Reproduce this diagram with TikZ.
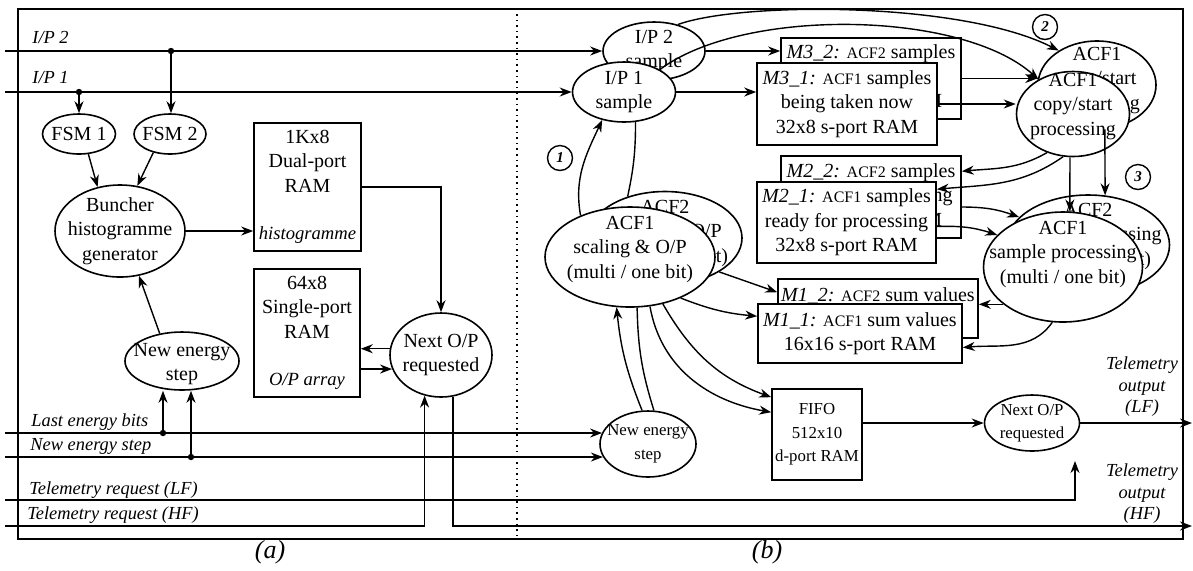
\documentclass[tikz,border=0pt]{standalone}
\usepackage{fontspec}
\setmainfont{Liberation Serif}
\usetikzlibrary{shapes.geometric,arrows.meta}
\newcommand\boxfont{\fontsize{10}{12.25}\selectfont}
\newcommand\narrowfont{\fontsize{8.4}{11.75}\selectfont}
\newcommand\sigfont{\fontsize{9.2}{10.75}\selectfont\itshape}
\newcommand\numfont{\fontsize{7.5}{8}\selectfont\bfseries\itshape}
\newcommand\smallacf[1]{{\fontsize{8}{10}\selectfont #1}}
\newcommand\boxnote[1]{{\fontsize{9.3}{12.25}\selectfont\itshape #1}}
\begin{document}
\begin{tikzpicture}[x=0.5pt,y=-0.5pt,
    ell/.style={draw, ellipse, fill=white, line width=0.8pt, inner sep=0pt},
    mem/.style={draw, rectangle, fill=white, line width=0.8pt, align=center, inner sep=0pt, font=\boxfont},
    txt/.style={align=center, inner sep=0pt, font=\boxfont},
    sig/.style={anchor=base west, inner sep=0pt, font=\sigfont},
    num/.style={draw, circle, line width=0.7pt, minimum size=12.5pt, inner sep=0pt, font=\numfont},
    arr/.style={line width=0.7pt, -{Stealth[length=6pt,width=4.5pt]}}]
    \useasboundingbox (0,0) rectangle (1193,570);
    \draw [line width=0.9pt] (18,9) rectangle (1183,539);
    \draw [dotted, line width=0.8pt] (517,14) -- (517,537);
    % (a)
    \coordinate (ip2in) at (5,51);
    \coordinate (ip1in) at (5,92);
    \coordinate (lebin) at (5,433);
    \coordinate (nesin) at (5,457);
    \coordinate (tlfin) at (5,500);
    \coordinate (thfin) at (5,526);
    \coordinate (ip2dot) at (171,51);
    \coordinate (ip1dot) at (79,92);
    \coordinate (lebdot) at (163,433);
    \coordinate (nesdot) at (191,457);
    \coordinate (lfout) at (1192,423);
    \coordinate (hfout) at (1192,526);
    \coordinate (tlfend) at (1075,461);
    \node [sig] (lblip2) at (32,43) {I/P 2};
    \node [sig] (lblip1) at (32,83) {I/P 1};
    \node [sig] (lblleb) at (31,426) {Last energy bits};
    \node [sig] (lblnes) at (30,450) {New energy step};
    \node [sig] (lbltlf) at (29,494) {Telemetry request (LF)};
    \node [sig] (lblthf) at (27,519) {Telemetry request (HF)};
    \node [ell, minimum width=36.5pt, minimum height=20pt, label={[txt]center:FSM 1}] (fsm1) at (79,134) {};
    \node [ell, minimum width=36pt, minimum height=20pt, label={[txt]center:FSM 2}] (fsm2) at (170,134) {};
    \node [ell, minimum width=65pt, minimum height=46pt, label={[txt]center:Buncher\\histogramme\\generator}] (buncher) at (120,231) {};
    \node [ell, minimum width=57pt, minimum height=29pt, label={[txt,yshift=-1.5pt]center:New energy\\step}] (nesa) at (182,361) {};
    \node [ell, minimum width=51pt, minimum height=42pt, label={[txt]center:Next O/P\\requested}] (nopa) at (441,355) {};
    \node [mem, minimum width=53.5pt, minimum height=64pt] (kram) at (307.5,187) {1Kx8\\Dual-port\\RAM\\[11.5pt]\boxnote{histogramme}};
    \node [mem, minimum width=53pt, minimum height=64pt] (sram) at (307,333) {64x8\\Single-port\\RAM\\[11.5pt]\boxnote{O/P array}};
    \fill (ip2dot) circle (1.6pt);
    \fill (ip1dot) circle (1.6pt);
    \fill (lebdot) circle (1.6pt);
    \fill (nesdot) circle (1.6pt);
    \draw [arr] (ip2dot) -- (ip2dot |- fsm2.north);
    \draw [arr] (ip1dot) -- (fsm1.north);
    \draw [arr] (fsm1.295) -- (buncher.117);
    \draw [arr] (fsm2.228) -- (buncher.69);
    \draw [arr] (buncher.east) -- (buncher.east -| kram.west);
    \draw [arr] (kram.east) -| (nopa.north);
    \draw [arr] (nopa.173) -- (nopa.173 -| sram.east);
    \draw [arr] (nopa.196 -| sram.east) -- (nopa.196);
    \draw [arr] (nesa.129) -- (buncher.293);
    \draw [arr] (lebdot) -- (lebdot |- nesa.south);
    \draw [arr] (nesdot) -- (nesdot |- nesa.south);
    \node [font=\fontsize{13}{15}\selectfont\itshape] (capa) at (270,552) {(a)};
    % (b)
    \node [ell, minimum width=51pt, minimum height=29pt, label={[txt]center:I/P 2\\sample}] (ip2s) at (654,51) {};
    \node [ell, minimum width=51.5pt, minimum height=30pt, label={[txt]center:I/P 1\\sample}] (ip1s) at (624,92) {};
    \node [mem, minimum width=90pt, minimum height=40.5pt] (m32) at (871,78.5) {\textit{M3\_2:} \smallacf{ACF2} samples\\being taken now\\32x8 s-port RAM};
    \node [mem, minimum width=90pt, minimum height=41pt] (m31) at (847,104) {\textit{M3\_1:} \smallacf{ACF1} samples\\being taken now\\32x8 s-port RAM};
    \node [ell, minimum width=59pt, minimum height=44pt, label={[txt,yshift=2.25pt]center:ACF1\\copy/start\\processing}] (copyB) at (1097,85) {};
    \draw [arr] (m32.east) -- (m32.east -| copyB.west);
    \node [ell, minimum width=56.5pt, minimum height=42.5pt, label={[txt,yshift=3.75pt]center:ACF1\\copy/start\\processing}] (copyF) at (1073,114) {};
    \node [mem, minimum width=90pt, minimum height=41pt] (m22) at (871,197) {\textit{M2\_2:} \smallacf{ACF2} samples\\ready for processing\\32x8 s-port RAM};
    \node [mem, minimum width=89.5pt, minimum height=40.5pt] (m21) at (846.5,222.5) {\textit{M2\_1:} \smallacf{ACF1} samples\\ready for processing\\32x8 s-port RAM};
    \node [ell, minimum width=81.5pt, minimum height=50pt, label={[txt,yshift=4.5pt]center:ACF2\\sample processing\\(multi / one bit)}] (spB) at (1088,245) {};
    \node [ell, minimum width=79.5pt, minimum height=55pt, label={[txt,yshift=6.5pt]center:ACF1\\sample processing\\(multi / one bit)}] (spF) at (1063,267) {};
    \node [mem, minimum width=100pt, minimum height=29.5pt] (m12) at (878,308.5) {\textit{M1\_2:} \smallacf{ACF2} sum values\\16x16 s-port RAM};
    \node [mem, minimum width=102pt, minimum height=29.5pt] (m11) at (860,333.5) {\textit{M1\_1:} \smallacf{ACF1} sum values\\16x16 s-port RAM};
    \node [ell, minimum width=77pt, minimum height=46.5pt, label={[txt,yshift=2.5pt]center:ACF2\\scaling \& O/P\\(multi / one bit)}] (scB) at (665,238) {};
    \node [ell, minimum width=85pt, minimum height=50pt, label={[txt,yshift=4pt]center:ACF1\\scaling \& O/P\\(multi / one bit)}] (scF) at (630,257) {};
    \node [ell, minimum width=48pt, minimum height=33pt, label={[txt,font=\narrowfont]center:New energy\\step}] (nesb) at (648,444) {};
    \node [mem, font=\narrowfont, minimum width=45pt, minimum height=45.5pt] (fifo) at (817,434.5) {FIFO\\512x10\\d-port RAM};
    \node [ell, minimum width=47.5pt, minimum height=28pt, label={[txt,font=\narrowfont]center:Next O/P\\requested}] (nopb) at (1032,423) {};
    \node [num] (n1) at (560,158) {1};
    \node [num] (n2) at (1045,27) {2};
    \node [num] (n3) at (1138,177) {3};
    \node [txt, font=\sigfont] (lbllf) at (1142,387) {Telemetry\\output\\(LF)};
    \node [txt, font=\sigfont] (lblhf) at (1142,494) {Telemetry\\output\\(HF)};
    \node [font=\fontsize{13}{15}\selectfont\itshape] (capb) at (767,552) {(b)};
    \draw [arr] (ip2in) -- (ip2s.west);
    \draw [arr] (ip1in) -- (ip1s.west);
    \draw [arr] (lebin) -- (lebin -| nesb.166);
    \draw [arr] (nesin) -- (nesin -| nesb.196);
    \draw [arr] (thfin) -| (nopa.248);
    \draw [arr] (nopa.286) |- (hfout);
    \draw [arr] (tlfin) -| (tlfend);
    \draw [arr] (ip2s.east) -- (ip2s.east -| m32.west);
    \draw [arr] (ip1s.east) -- (ip1s.east -| m31.west);
    \draw [arr] (ip2s.48) to[out=20,in=153,out looseness=0.45,in looseness=0.73] (copyB.138);
    \draw [arr] (ip1s.32) to[out=37,in=138,looseness=0.7] (copyF.135);
    \draw [arr] (m31.east) -- (m31.east -| copyF.west);
    \draw [arr] (copyF.236) to[out=210,in=5] ([yshift=-8pt]m22.north east);
    \draw [arr] (copyF.257) to[out=215,in=5] ([yshift=-4pt]m21.north east);
    \draw [arr] (copyF.266) -- (spF.83);
    \draw [arr] (copyB.280) -- (spB.71);
    \draw [arr] ([yshift=-5pt]m22.east) to[bend left=10] (spB.158);
    \draw [arr] ([yshift=-2pt]m21.east) to[bend left=10] (spF.154);
    \draw [arr] (spF.212) -- (spF.212 -| m12.east);
    \draw [arr] (spF.259) to[out=235,in=5] ([yshift=-7pt]m11.east);
    \draw [arr] (scB.328) -- ([yshift=-7pt]m12.north west);
    \draw [arr] (scF.321) to[bend right=8] ([yshift=-6.5pt]m11.north west);
    \draw [arr] (scF.140) to[out=100,in=245] (ip1s.232);
    \draw [line width=0.7pt] (ip1s.291) to[bend left=6] (scB.132);
    \draw [arr] (nesb.100) to[bend left=8] (scF.255);
    \draw [line width=0.7pt] (scF.278) to[bend right=8] (nesb.80);
    \draw [arr] (scF.292) to[out=-80,in=170] ([yshift=-12pt]fifo.north west);
    \draw [arr] (scF.305) to[out=-60,in=160] ([yshift=-4.5pt]fifo.north west);
    \draw [arr] (fifo.east |- nopb.west) -- (nopb.west);
    \draw [arr] (nopb.east) -- (nopb.east -| lfout);
\end{tikzpicture}
\end{document}
